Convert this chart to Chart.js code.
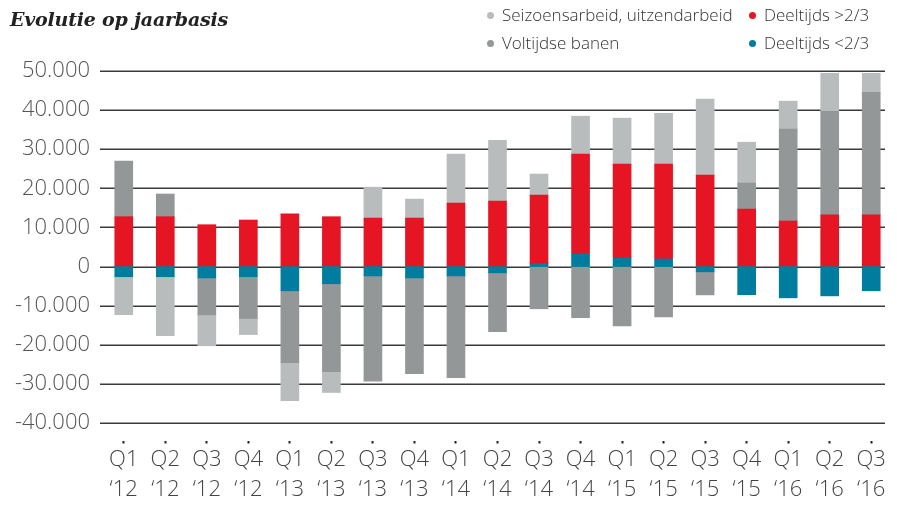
<!DOCTYPE html>
<html>
<head>
<meta charset="utf-8">
<script src="https://cdn.jsdelivr.net/npm/chart.js@4"></script>
<style>
  html, body { margin: 0; padding: 0; background: #fff; }
  #wrap { position: relative; width: 897px; height: 506px; }
  #title { position: absolute; left: 10px; top: 8px; font: italic bold 19px "DejaVu Serif", serif; color: #222; letter-spacing: -0.2px; }
  .leg { position: absolute; font: 300 17px "Open Sans", sans-serif; color: #333; line-height: 20px; white-space: nowrap; }
  .leg .dot { display: inline-block; width: 7px; height: 7px; border-radius: 50%; margin-right: 8px; vertical-align: 2px; }
</style>
</head>
<body>
<div id="wrap">
  <canvas id="chart" width="897" height="506"></canvas>
  <div id="title">Evolutie op jaarbasis</div>
  <div class="leg" style="left:487px;top:5px"><span class="dot" style="background:#b9bcbd"></span>Seizoensarbeid, uitzendarbeid</div>
  <div class="leg" style="left:749px;top:5px"><span class="dot" style="background:#e61524"></span>Deeltijds &gt;2/3</div>
  <div class="leg" style="left:487px;top:33px"><span class="dot" style="background:#949798"></span>Voltijdse banen</div>
  <div class="leg" style="left:749px;top:33px"><span class="dot" style="background:#007c9f"></span>Deeltijds &lt;2/3</div>
</div>
<script>
// quarters and years for the x axis
const quarters = ['Q1','Q2','Q3','Q4','Q1','Q2','Q3','Q4','Q1','Q2','Q3','Q4','Q1','Q2','Q3','Q4','Q1','Q2','Q3'];
const years = ['‘12','‘12','‘12','‘12','‘13','‘13','‘13','‘13','‘14','‘14','‘14','‘14','‘15','‘15','‘15','‘15','‘16','‘16','‘16'];

// series values
const deeltijdsKlein = [-2600, -2600, -2900, -2600, -6200, -4400, -2400, -2900, -2400, -1600, 750, 3250, 2250, 1950, -1350, -7200, -8000, -7500, -6200];
const deeltijdsGroot = [12750, 12750, 10700, 11900, 13450, 12750, 12400, 12400, 16250, 16750, 17550, 25500, 23950, 24250, 23400, 14700, 11650, 13200, 13200];
const voltijds = [14250, 5800, -9450, -10700, -18400, -22450, -26900, -24500, -26000, -15050, -10800, -13100, -15150, -12850, -5900, 6650, 23500, 26500, 31350];
const seizoen = [-9700, -15100, -7900, -4100, -9700, -5350, 7900, 4850, 12500, 15550, 5350, 9700, 11750, 13000, 19400, 10450, 7150, 9700, 4850];

const yTicks = [50000, 40000, 30000, 20000, 10000, 0, -10000, -20000, -30000, -40000];

const labels = quarters.map((q, i) => [q, years[i]]);

function fmt(v) {
  const s = String(Math.abs(v)).replace(/\B(?=(\d{3})+(?!\d))/g, '.');
  return v < 0 ? '-' + s : s;
}

// horizontal gridlines, a bit wider on the left than the bars
const gridPlugin = {
  id: 'gridLines',
  beforeDatasetsDraw(chart) {
    const y = chart.scales.y;
    const ctx = chart.ctx;
    ctx.save();
    ctx.strokeStyle = '#3a3a3a';
    ctx.lineWidth = 1.4;
    y.ticks.forEach(t => {
      const py = Math.round(y.getPixelForValue(t.value)) + 0.3;
      ctx.beginPath();
      ctx.moveTo(100, py);
      ctx.lineTo(885, py);
      ctx.stroke();
    });
    ctx.restore();
  }
};

const barOpts = { barThickness: 18, borderWidth: 0, stack: 's' };

new Chart(document.getElementById('chart'), {
  type: 'bar',
  data: {
    labels: labels,
    datasets: [
      { label: 'Deeltijds <2/3', data: deeltijdsKlein, backgroundColor: '#007c9f', ...barOpts },
      { label: 'Deeltijds >2/3', data: deeltijdsGroot, backgroundColor: '#e61524', ...barOpts },
      { label: 'Voltijdse banen', data: voltijds, backgroundColor: '#949798', ...barOpts },
      { label: 'Seizoensarbeid, uitzendarbeid', data: seizoen, backgroundColor: '#b9bcbd', ...barOpts }
    ]
  },
  options: {
    responsive: false,
    devicePixelRatio: 1,
    animation: false,
    layout: { padding: { top: 71, right: 5, bottom: 0, left: 0 } },
    plugins: { legend: { display: false }, tooltip: { enabled: false } },
    scales: {
      x: {
        stacked: true,
        border: { display: false },
        grid: {
          display: true,
          offset: false,
          drawOnChartArea: false,
          drawTicks: true,
          tickLength: 22,
          tickColor: '#222',
          tickWidth: 2,
          tickBorderDash: [0, 18, 2.5, 60]
        },
        ticks: {
          autoSkip: false,
          maxRotation: 0,
          padding: 0,
          color: '#444',
          font: { family: 'Open Sans', size: 22, weight: 300, lineHeight: 1.35 }
        },
        afterFit(scale) { scale.height = 83; }
      },
      y: {
        stacked: true,
        min: -40000,
        max: 50000,
        border: { display: false },
        grid: { display: false, drawTicks: false },
        afterBuildTicks(scale) { scale.ticks = yTicks.map(v => ({ value: v })); },
        ticks: {
          padding: 13,
          color: '#555',
          font: { family: 'Open Sans', size: 22, weight: 300 },
          callback: v => fmt(v)
        },
        afterFit(scale) { scale.width = 103; }
      }
    }
  },
  plugins: [gridPlugin]
});
</script>
</body>
</html>
